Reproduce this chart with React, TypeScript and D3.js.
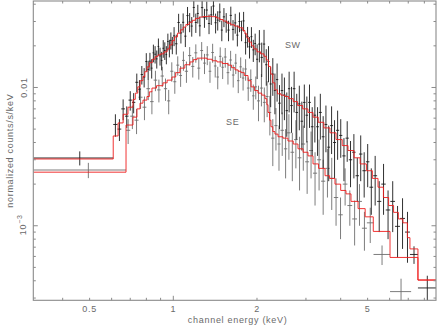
import { useEffect, useRef } from 'react'
import * as d3 from 'd3'

// SW region: channel bin edges (keV), rates and 1-sigma errors (counts/s/keV)
const SW_EDGES = [
  0.3136, 0.608, 0.63, 0.65, 0.67, 0.69, 0.71, 0.73, 0.748, 0.763, 0.778, 0.793, 0.806, 0.818, 0.83, 0.842,
  0.854, 0.866, 0.878, 0.89, 0.902, 0.914, 0.926, 0.938, 0.95, 0.962, 0.974, 0.986, 0.998,
  1.015, 1.035, 1.055, 1.075, 1.095, 1.115, 1.135, 1.155, 1.175, 1.195, 1.215, 1.235, 1.257, 1.282, 1.307,
  1.332, 1.357, 1.382, 1.407, 1.432, 1.457, 1.482, 1.507, 1.535, 1.565, 1.595, 1.625, 1.655, 1.685, 1.715,
  1.745, 1.775, 1.805, 1.835, 1.865, 1.895, 1.925, 1.955, 1.985,
  2.02, 2.06, 2.1, 2.14, 2.18, 2.22, 2.26, 2.3, 2.34, 2.385, 2.435, 2.485, 2.535, 2.585, 2.635, 2.69, 2.75,
  2.81, 2.87, 2.93, 2.99, 3.055, 3.125, 3.195, 3.265, 3.34, 3.42, 3.5, 3.58, 3.665, 3.755, 3.85, 3.95,
  4.055, 4.165, 4.28, 4.4, 4.525, 4.655, 4.79, 4.93, 5.075, 5.235, 5.41, 5.6, 5.81, 6.035, 6.275, 6.54,
  6.815, 7.1, 7.586, 8.81,
]
const SW_RATE = [
  0.00309,
  0.0054, 0.005, 0.007, 0.0062, 0.0081, 0.0078, 0.0109, 0.0097, 0.0124, 0.0119, 0.0154, 0.0135, 0.0155,
  0.0138, 0.0178, 0.0174, 0.0161, 0.0198, 0.0169, 0.0157, 0.0192, 0.0185, 0.0173, 0.0215, 0.0193, 0.0219, 0.0203,
  0.0236, 0.0207, 0.0295, 0.0248, 0.0296, 0.0235, 0.0331, 0.0298, 0.0278, 0.0379, 0.0295, 0.0343, 0.0279,
  0.0378, 0.032, 0.0363, 0.029, 0.0335, 0.0388, 0.0294, 0.0307, 0.0351, 0.026, 0.0324, 0.0297, 0.026, 0.0332,
  0.0263, 0.0293, 0.0239, 0.03, 0.026, 0.0303, 0.0211, 0.0234, 0.0197, 0.0233, 0.0187, 0.0208,
  0.016, 0.0206, 0.0165, 0.0206, 0.0146, 0.0154, 0.0106, 0.0125, 0.0095, 0.0114, 0.0077, 0.0095, 0.0088,
  0.0068, 0.0098, 0.0074, 0.0098, 0.0066, 0.0076, 0.0057, 0.0078, 0.0063, 0.0078, 0.0052, 0.0063, 0.0052,
  0.0066, 0.0044, 0.0054, 0.0037, 0.0053, 0.004, 0.0049,
  0.0045, 0.0032, 0.0043, 0.003, 0.0034, 0.0023, 0.0033, 0.0025, 0.0029, 0.0019, 0.0023, 0.0015, 0.002,
  0.0013, 0.0015, 0.00099, 0.00113, 0.0009, 0.00062, 0.000355,
]
const SW_ERR = [
  0.00036,
  0.001, 0.0009, 0.0012, 0.0011, 0.0013, 0.0013, 0.0017, 0.0016, 0.0019, 0.0019, 0.0023, 0.0021, 0.0023,
  0.0022, 0.0026, 0.0025, 0.0024, 0.0028, 0.0025, 0.0024, 0.0028, 0.0027, 0.0026, 0.003, 0.0028, 0.0031, 0.0029,
  0.0037, 0.0034, 0.0046, 0.004, 0.0047, 0.0039, 0.0051, 0.0047, 0.0045, 0.0057, 0.0047, 0.0053, 0.0045,
  0.0057, 0.005, 0.0055, 0.0047, 0.0052, 0.0058, 0.0048, 0.0049, 0.0054, 0.0044, 0.0051, 0.0048, 0.0044,
  0.0052, 0.0044, 0.0048, 0.0041, 0.0049, 0.0044, 0.0049, 0.0038, 0.004, 0.0035, 0.004, 0.0034, 0.0037,
  0.0045, 0.0054, 0.0046, 0.0055, 0.0043, 0.0045, 0.0034, 0.0038, 0.0031, 0.0035, 0.0027, 0.0031, 0.003,
  0.0024, 0.0032, 0.0027, 0.0032, 0.0024, 0.0027, 0.0022, 0.0027, 0.0023, 0.0027, 0.002, 0.0023, 0.002,
  0.0024, 0.0018, 0.002, 0.0016, 0.002, 0.0018, 0.0019,
  0.0014, 0.0011, 0.0014, 0.0011, 0.0012, 0.0008, 0.0012, 0.0009, 0.001, 0.0007, 0.0009, 0.0006, 0.0008,
  0.0005, 0.0006, 0.0004, 0.00045, 0.00036, 0.00009, 0.00008,
]

// SE region
const SE_EDGES = [
  0.3136, 0.676, 0.7, 0.725, 0.75, 0.775, 0.8, 0.825, 0.85, 0.875, 0.9, 0.925, 0.95, 0.975, 1.0,
  1.025, 1.05, 1.075, 1.1, 1.13, 1.16, 1.19, 1.22, 1.25, 1.28, 1.31, 1.34, 1.37, 1.4, 1.43, 1.46, 1.49,
  1.52, 1.555, 1.59, 1.625, 1.66, 1.695, 1.73, 1.765, 1.8, 1.84, 1.88, 1.92, 1.96, 2.0,
  2.05, 2.1, 2.15, 2.2, 2.25, 2.31, 2.37, 2.43, 2.5, 2.57, 2.64, 2.72, 2.8, 2.89, 2.98, 3.08, 3.18, 3.29,
  3.4, 3.52, 3.65, 3.78, 3.92,
  4.07, 4.23, 4.4, 4.58, 4.77, 4.97, 5.25, 6.02, 7.17,
]
const SE_RATE = [
  0.00253, 0.0049, 0.0062, 0.0058, 0.0085, 0.0072, 0.0098, 0.0079, 0.0113, 0.0096, 0.0121, 0.0098, 0.008, 0.0131,
  0.011, 0.0145, 0.0122, 0.0157, 0.0131, 0.017, 0.0142, 0.0178, 0.0138, 0.0185, 0.015, 0.0172, 0.0131, 0.0179,
  0.0143, 0.0119, 0.0168, 0.014, 0.0166, 0.0128, 0.0158, 0.0123, 0.015, 0.0112, 0.0141, 0.0117, 0.0136,
  0.0099, 0.0114, 0.0087, 0.0101,
  0.008, 0.0099, 0.0078, 0.0086, 0.0066, 0.0043, 0.0053, 0.0039, 0.0049, 0.0036, 0.0047, 0.0034, 0.0042,
  0.0031, 0.0039, 0.0029, 0.0035, 0.0024, 0.003, 0.0021, 0.0026, 0.0022, 0.0016,
  0.0012, 0.002, 0.0014, 0.00112, 0.0015, 0.00096, 0.00105, 0.00062, 0.000334,
]
const SE_ERR = [
  0.00032, 0.001, 0.0012, 0.0012, 0.0015, 0.0014, 0.0017, 0.0015, 0.0019, 0.0018, 0.002, 0.0018, 0.0016, 0.0021,
  0.002, 0.0023, 0.0021, 0.0025, 0.0023, 0.0026, 0.0024, 0.0027, 0.0024, 0.0028, 0.0025, 0.0027, 0.0023, 0.0028,
  0.0025, 0.0022, 0.0027, 0.0025, 0.0027, 0.0023, 0.0026, 0.0023, 0.0025, 0.0021, 0.0024, 0.0022, 0.0024,
  0.0019, 0.0021, 0.0018, 0.0019,
  0.0023, 0.0026, 0.0022, 0.0025, 0.0021, 0.0016, 0.0018, 0.0014, 0.0017, 0.0014, 0.0017, 0.0013, 0.0016,
  0.0013, 0.0014, 0.0012, 0.0013, 0.001, 0.0012, 0.0009, 0.001, 0.0009, 0.0006,
  0.0004, 0.0006, 0.0004, 0.0004, 0.0005, 0.0003, 0.0003, 0.0001, 0.00008,
]

// folded models (step functions): value holds from each edge to the next
const SW_MODEL_EDGES = [
  0.3136, 0.608, 0.633, 0.66, 0.687, 0.716, 0.73, 0.745, 0.76, 0.778, 0.79, 0.805, 0.82, 0.84, 0.86, 0.88,
  0.9, 0.925, 0.95, 0.97, 0.99, 1.01, 1.035, 1.06, 1.085, 1.11, 1.14, 1.17, 1.2, 1.24, 1.28, 1.33, 1.38,
  1.43, 1.47, 1.51, 1.56, 1.61, 1.66, 1.72, 1.78, 1.81, 1.84, 1.87, 1.91, 1.95, 2.0, 2.06, 2.12, 2.16, 2.2,
  2.24, 2.28, 2.32, 2.37, 2.44, 2.52, 2.6, 2.7, 2.8, 2.92, 3.05, 3.18, 3.32, 3.48, 3.66, 3.85, 4.05, 4.25,
  4.47, 4.7, 4.95, 5.2, 5.45, 5.7, 5.95, 6.2, 6.45, 6.7, 6.95, 7.1, 7.586, 8.81,
]
const SW_MODEL = [
  0.00304, 0.00446, 0.00554, 0.0064, 0.0072, 0.0082, 0.0091, 0.0101, 0.0112, 0.012,
  0.013, 0.0141, 0.0151, 0.016, 0.0167, 0.0172, 0.0175, 0.0181, 0.019, 0.0203,
  0.0218, 0.0232, 0.0247, 0.0261, 0.0273, 0.0285, 0.0296, 0.0306, 0.0316, 0.0323,
  0.0326, 0.0327, 0.0325, 0.0318, 0.031, 0.0302, 0.0292, 0.0284, 0.0278, 0.027,
  0.0258, 0.0244, 0.0228, 0.0213, 0.02, 0.019, 0.0181, 0.0175, 0.0168, 0.0158,
  0.0142, 0.0125, 0.0108, 0.0096, 0.009, 0.0088, 0.0086, 0.0083, 0.0079, 0.0074,
  0.007, 0.0066, 0.0061, 0.0056, 0.0051, 0.0047, 0.0042, 0.0038, 0.0035, 0.0031,
  0.0028, 0.0025, 0.0022, 0.0019, 0.0016, 0.0014, 0.00125, 0.00112, 0.00105, 0.00082,
  0.00068, 0.000405,
]
const SE_MODEL_EDGES = [
  0.3136, 0.676, 0.716, 0.74, 0.759, 0.778, 0.804, 0.82, 0.838, 0.87, 0.918, 0.95, 0.989, 1.02, 1.057,
  1.1, 1.148, 1.18, 1.217, 1.27, 1.322, 1.38, 1.436, 1.5, 1.573, 1.62, 1.667, 1.71, 1.752, 1.8, 1.857,
  1.904, 1.96, 2.017, 2.08, 2.137, 2.17, 2.191, 2.22, 2.245, 2.28, 2.321, 2.381, 2.48, 2.585, 2.7, 2.809,
  2.93, 3.052, 3.181, 3.33, 3.514, 3.65, 3.816, 4.0, 4.18, 4.357, 4.62, 4.9, 5.24, 6.02, 7.586, 8.81,
]
const SE_MODEL = [
  0.00244, 0.00535, 0.0061, 0.007, 0.0077, 0.0081, 0.0086, 0.0093, 0.0099, 0.0103,
  0.0108, 0.0113, 0.0119, 0.0128, 0.0138, 0.0146, 0.0153, 0.0159, 0.0163, 0.0163,
  0.016, 0.0156, 0.0153, 0.0149, 0.0145, 0.0139, 0.0134, 0.0131, 0.0128, 0.0122,
  0.0112, 0.0101, 0.0095, 0.0091, 0.0088, 0.0083, 0.0075, 0.0066, 0.0058, 0.0052,
  0.0048, 0.0046, 0.0044, 0.0043, 0.0041, 0.0039, 0.0036, 0.0034, 0.0032, 0.0028,
  0.0026, 0.0023, 0.0022, 0.002, 0.0018, 0.0017, 0.0015, 0.00133, 0.00116, 0.00091,
  0.00059, 0.000405,
]

const X_LABELED = [0.5, 1, 2, 5]
const X_LABELS = ['0.5', '1', '2', '5']
const Y_LABELED = [0.01, 0.001]

// region names, placed in data coordinates (keV, counts/s/keV)
const REGION_NAMES = ['SW', 'SE']
const REGION_E = [2.52, 1.547]
const REGION_RATE = [0.0193, 0.00531]

const W = 437
const H = 327
const TEXT = '#6a6a6a'
const FONT = 'Liberation Sans, Arial, sans-serif'

export default function App() {
  const svgRef = useRef<SVGSVGElement>(null)

  useEffect(() => {
    if (!svgRef.current) return
    const svg = d3.select(svgRef.current)
    svg.selectAll('*').remove()

    const margin = { top: 1, right: 1, bottom: 26.7, left: 33.3 }
    const x = d3.scaleLog().domain([0.3136, 8.81]).range([margin.left, W - margin.right])
    const y = d3.scaleLog().domain([2.89e-4, 0.0422]).range([H - margin.bottom, margin.top])
    const [x0, x1] = x.range()
    const [y0, y1] = y.range()

    svg.append('clipPath').attr('id', 'plot-clip')
      .append('rect')
      .attr('x', x0).attr('y', y1)
      .attr('width', x1 - x0).attr('height', y0 - y1)

    const plot = svg.append('g').attr('clip-path', 'url(#plot-clip)')

    // data crosses
    const drawData = (edges: number[], rate: number[], err: number[], color: string) => {
      const g = plot.append('g').attr('stroke', color).attr('stroke-width', 0.9).attr('fill', 'none')
      rate.forEach((v, i) => {
        const lo = edges[i]
        const hi = edges[i + 1]
        const c = (lo + hi) / 2
        const vLo = Math.max(v - err[i], 1e-5)
        g.append('line')
          .attr('x1', x(lo)).attr('x2', x(hi))
          .attr('y1', y(v)).attr('y2', y(v))
        g.append('line')
          .attr('x1', x(c)).attr('x2', x(c))
          .attr('y1', y(vLo)).attr('y2', y(v + err[i]))
      })
    }
    drawData(SE_EDGES, SE_RATE, SE_ERR, '#6e6e6e')
    drawData(SW_EDGES, SW_RATE, SW_ERR, '#1a1a1a')

    // models
    const drawModel = (edges: number[], vals: number[]) => {
      const pts: [number, number][] = vals.map((v, i) => [edges[i], v])
      pts.push([edges[vals.length], vals[vals.length - 1]])
      const line = d3.line<[number, number]>()
        .x((d) => x(d[0]))
        .y((d) => y(d[1]))
        .curve(d3.curveStepAfter)
      plot.append('path')
        .attr('d', line(pts))
        .attr('fill', 'none')
        .attr('stroke', '#ee1c1c')
        .attr('stroke-width', 0.9)
    }
    drawModel(SE_MODEL_EDGES, SE_MODEL)
    drawModel(SW_MODEL_EDGES, SW_MODEL)

    // frame
    svg.append('rect')
      .attr('x', x0).attr('y', y1)
      .attr('width', x1 - x0).attr('height', y0 - y1)
      .attr('fill', 'none')
      .attr('stroke', '#8a8a8a')
      .attr('stroke-width', 1.1)

    const isDecade = (v: number) => Math.abs(Math.log10(v) - Math.round(Math.log10(v))) < 1e-6
    const ticks = svg.append('g').attr('stroke', '#8a8a8a').attr('stroke-width', 1)

    x.ticks().forEach((t) => {
      const len = isDecade(t) ? 4.5 : 2.5
      ticks.append('line').attr('x1', x(t)).attr('x2', x(t)).attr('y1', y0).attr('y2', y0 - len)
      ticks.append('line').attr('x1', x(t)).attr('x2', x(t)).attr('y1', y1).attr('y2', y1 + len)
    })
    y.ticks().forEach((t) => {
      const len = isDecade(t) ? 4.5 : 2.5
      ticks.append('line').attr('x1', x0).attr('x2', x0 + len).attr('y1', y(t)).attr('y2', y(t))
      ticks.append('line').attr('x1', x1).attr('x2', x1 - len).attr('y1', y(t)).attr('y2', y(t))
    })

    const text = svg.append('g')
      .attr('fill', TEXT)
      .attr('font-family', FONT)
      .attr('font-size', 9)
      .attr('letter-spacing', 0.7)

    X_LABELED.forEach((t, i) => {
      text.append('text')
        .attr('x', x(t)).attr('y', y0 + 11.5)
        .attr('text-anchor', 'middle')
        .text(X_LABELS[i])
    })

    // y tick labels, rotated
    text.append('text')
      .attr('transform', `translate(27,${y(Y_LABELED[0])}) rotate(-90)`)
      .attr('text-anchor', 'middle')
      .text('0.01')
    const yE = text.append('text')
      .attr('transform', `translate(26,${y(Y_LABELED[1]) - 1}) rotate(-90)`)
      .attr('text-anchor', 'middle')
    yE.append('tspan').text('10')
    yE.append('tspan').attr('dy', -4).attr('font-size', 7).text('\u22123')

    text.append('text')
      .attr('x', (x0 + x1) / 2 + 3).attr('y', 323.3)
      .attr('text-anchor', 'middle')
      .text('channel energy (keV)')

    text.append('text')
      .attr('transform', `translate(12.5,${(y0 + y1) / 2}) rotate(-90)`)
      .attr('text-anchor', 'middle')
      .text('normalized counts/s/keV')

    REGION_NAMES.forEach((name, i) => {
      text.append('text')
        .attr('x', x(REGION_E[i])).attr('y', y(REGION_RATE[i]))
        .text(name)
    })
  }, [])

  return (
    <svg
      ref={svgRef}
      width={W}
      height={H}
      style={{ position: 'absolute', left: 0, top: 0, background: '#fff' }}
    />
  )
}
